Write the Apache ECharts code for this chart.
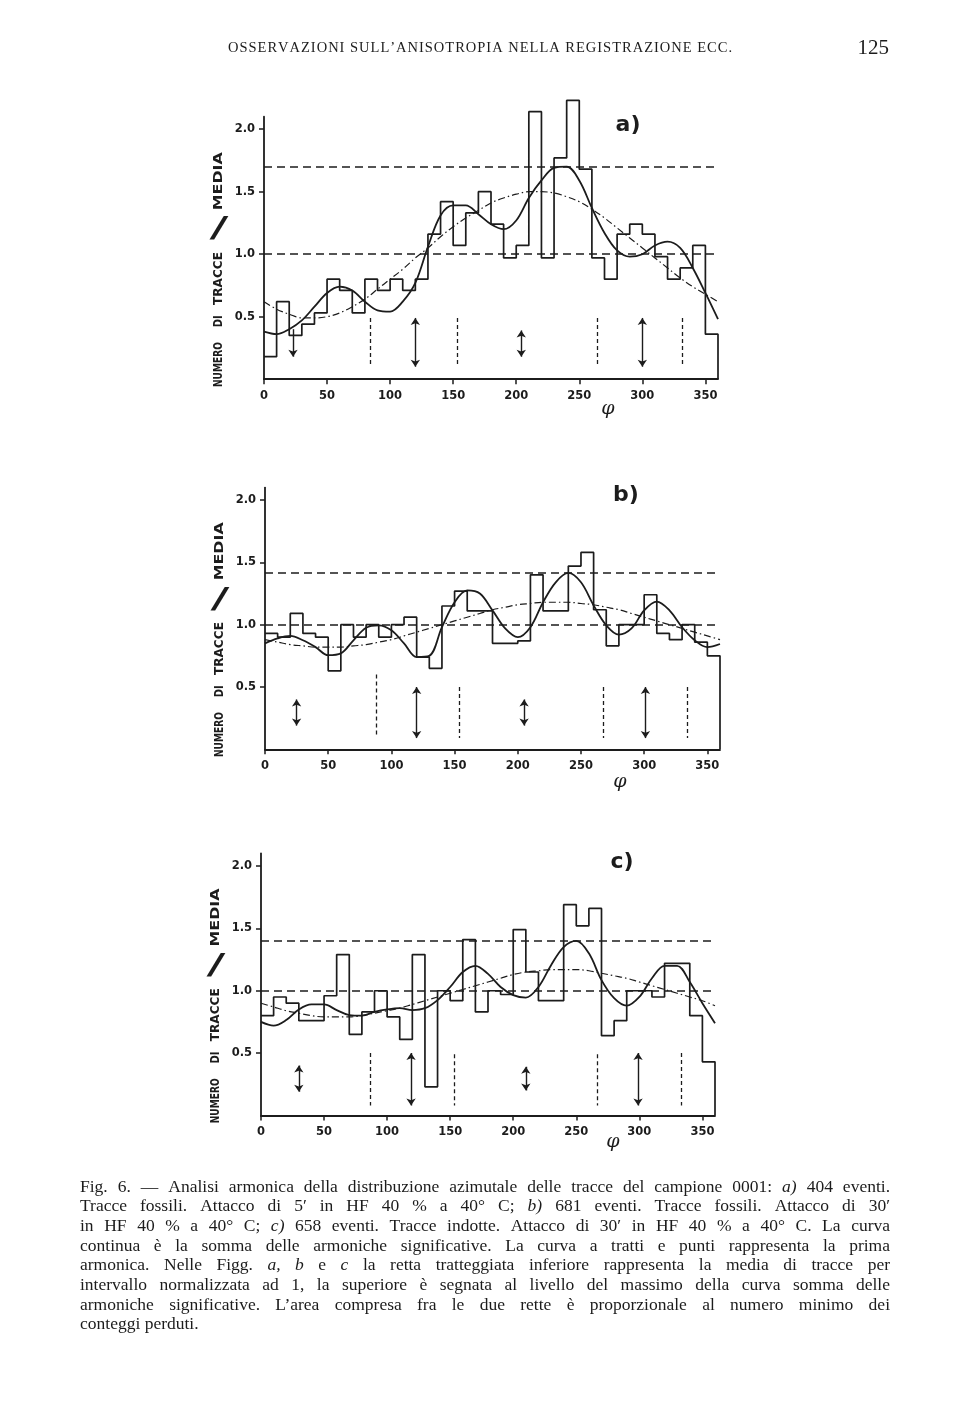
<!DOCTYPE html>
<html>
<head>
<meta charset="utf-8">
<script src="https://cdn.jsdelivr.net/npm/echarts@6/dist/echarts.min.js"></script>
<style>
html,body{margin:0;padding:0;background:#ffffff;}
#c{width:960px;height:1427px;}
</style>
</head>
<body>
<div id="c"></div>
<script>
// ---------------- DATA ----------------
const binStarts = [0,10,20,30,40,50,60,70,80,90,100,110,120,130,140,150,160,170,180,190,200,210,220,230,240,250,260,270,280,290,300,310,320,330,340,350];
const binEnd = 360;
const curveAngles = [0,10,20,30,40,50,60,70,80,90,100,110,120,130,140,150,160,170,180,190,200,210,220,230,240,250,260,270,280,290,300,310,320,330,340,350,360];
const xTickValues = [0,50,100,150,200,250,300,350];
const yTickValues = [0.5,1.0,1.5,2.0];

// a) histogram (tracks / mean per 10 deg bin)
const histA = [0.18,0.62,0.35,0.44,0.53,0.80,0.71,0.53,0.80,0.71,0.80,0.71,0.80,1.16,1.42,1.07,1.33,1.50,1.24,0.97,1.07,2.14,0.97,1.77,2.23,1.68,0.97,0.80,1.16,1.24,1.16,0.98,0.80,0.89,1.07,0.36];
const sumA   = [0.38,0.36,0.40,0.47,0.58,0.69,0.74,0.71,0.62,0.55,0.54,0.62,0.77,1.06,1.31,1.39,1.39,1.32,1.24,1.20,1.27,1.45,1.59,1.69,1.70,1.59,1.37,1.17,1.03,0.98,1.00,1.07,1.10,1.05,0.89,0.69,0.48];
const firstA = [0.62,0.56,0.52,0.49,0.49,0.50,0.53,0.58,0.64,0.72,0.80,0.88,0.97,1.05,1.14,1.22,1.29,1.35,1.41,1.45,1.48,1.50,1.50,1.49,1.46,1.42,1.36,1.29,1.21,1.13,1.05,0.97,0.89,0.81,0.74,0.68,0.62];

// b)
const histB = [0.93,0.90,1.09,0.93,0.90,0.63,1.00,0.90,1.00,0.90,1.00,1.06,0.74,0.65,1.15,1.27,1.11,1.11,0.85,0.85,0.87,1.40,1.11,1.11,1.47,1.58,1.12,0.83,1.00,1.00,1.24,0.93,0.88,1.00,0.86,0.75];
const sumB   = [0.85,0.89,0.91,0.875,0.82,0.755,0.77,0.875,0.975,0.995,0.955,0.85,0.74,0.75,0.98,1.18,1.275,1.25,1.115,0.97,0.90,0.98,1.18,1.34,1.415,1.34,1.155,0.995,0.92,0.97,1.115,1.185,1.115,0.98,0.875,0.82,0.845];
const firstB = [0.88,0.86,0.84,0.83,0.82,0.82,0.82,0.83,0.84,0.86,0.88,0.91,0.94,0.97,1.00,1.03,1.06,1.09,1.12,1.14,1.16,1.17,1.18,1.18,1.18,1.17,1.16,1.14,1.12,1.09,1.06,1.03,1.00,0.97,0.94,0.91,0.88];

// c)
const histC = [0.80,0.95,0.90,0.76,0.76,0.96,1.29,0.65,0.83,1.00,0.79,0.61,1.29,0.23,1.00,0.92,1.41,0.83,1.00,0.97,1.49,1.15,0.92,0.92,1.69,1.52,1.66,0.64,0.76,1.00,1.00,0.95,1.22,1.22,0.80,0.43];
const sumC   = [0.75,0.72,0.765,0.85,0.89,0.89,0.845,0.805,0.80,0.83,0.85,0.86,0.845,0.86,0.925,1.03,1.15,1.20,1.135,1.03,0.965,0.945,1.03,1.205,1.35,1.40,1.30,1.085,0.94,0.88,0.95,1.10,1.20,1.20,1.07,0.90,0.74];
const firstC = [0.90,0.87,0.84,0.82,0.80,0.79,0.79,0.79,0.80,0.82,0.84,0.86,0.89,0.92,0.95,0.98,1.01,1.04,1.07,1.10,1.13,1.15,1.16,1.17,1.17,1.17,1.16,1.14,1.12,1.10,1.07,1.04,1.01,0.98,0.95,0.92,0.88];

// reference levels: lower = mean (1), upper = max of harmonic sum
const meanLevel = 1.0;
const maxLevels = [1.70, 1.42, 1.40];

// vertical dashed markers [angle, top, bottom]
const dashA = [[84,0.49,0.10],[153,0.49,0.10],[264,0.49,0.10],[332,0.49,0.10]];
const dashB = [[88,0.60,0.10],[154,0.50,0.09],[268,0.50,0.09],[334,0.50,0.09]];
const dashC = [[87,0.50,0.08],[153,0.49,0.08],[267,0.49,0.08],[333,0.50,0.08]];

// arrows [angle, top, bottom]
const arrowsA = [[120,0.49,0.10],[204,0.39,0.18],[300,0.49,0.10]];
const downArrowsA = [[23,0.40,0.18]];
const arrowsB = [[25,0.40,0.19],[120,0.50,0.09],[205,0.40,0.19],[301,0.50,0.09]];
const arrowsC = [[30,0.40,0.19],[119,0.50,0.08],[210,0.39,0.20],[299,0.50,0.08]];

const panelLabels = ['a)','b)','c)'];
const headerText = 'OSSERVAZIONI SULL’ANISOTROPIA NELLA REGISTRAZIONE ECC.';
const pageNumber = '125';
const yTitleWords = ['NUMERO','DI','TRACCE','MEDIA'];
const xTitle = 'φ';
const captionLines = [
 'Fig. 6. — Analisi armonica della distribuzione azimutale delle tracce del campione 0001: _a) 404 eventi.',
 'Tracce fossili. Attacco di 5′ in HF 40 % a 40° C; _b) 681 eventi. Tracce fossili. Attacco di 30′',
 'in HF 40 % a 40° C; _c) 658 eventi. Tracce indotte. Attacco di 30′ in HF 40 % a 40° C. La curva',
 'continua è la somma delle armoniche significative. La curva a tratti e punti rappresenta la prima',
 'armonica. Nelle Figg. _a, _b e _c la retta tratteggiata inferiore rappresenta la media di tracce per',
 'intervallo normalizzata ad 1, la superiore è segnata al livello del massimo della curva somma delle',
 'armoniche significative. L’area compresa fra le due rette è proporzionale al numero minimo dei',
 'conteggi perduti.'
];

// ---------------- LAYOUT ----------------
const INK = '#1c1c1c';
const panels = [
  {hist:histA, sum:sumA, first:firstA, maxL:maxLevels[0], dash:dashA, arrows:arrowsA, down:downArrowsA,
   grid:{left:264, top:116.7, width:454, height:262.5}, labelPos:[628,125], phiPos:[608,409], titleX:219, zeroY:379.2},
  {hist:histB, sum:sumB, first:firstB, maxL:maxLevels[1], dash:dashB, arrows:arrowsB, down:[],
   grid:{left:265, top:487.6, width:455, height:261.7}, labelPos:[626,495], phiPos:[620,782], titleX:220, zeroY:749.3},
  {hist:histC, sum:sumC, first:firstC, maxL:maxLevels[2], dash:dashC, arrows:arrowsC, down:[],
   grid:{left:261, top:853.5, width:454, height:262}, labelPos:[622,862], phiPos:[613,1142], titleX:216, zeroY:1115.5}
];

const grids = [], xAxes = [], yAxes = [], series = [], graphics = [];
const labelFont = {fontFamily:'DejaVu Sans', fontWeight:'bold', fontSize:11.5, color:INK};

panels.forEach((p, i) => {
  grids.push(Object.assign({containLabel:false}, p.grid));
  xAxes.push({
    type:'value', gridIndex:i, min:0, max:binEnd, interval:50,
    axisLine:{show:true, onZero:false, lineStyle:{color:INK, width:1.8}},
    axisTick:{show:true, length:5, customValues:xTickValues, lineStyle:{color:INK, width:1.5}},
    axisLabel:Object.assign({show:true, margin:11, customValues:xTickValues}, labelFont),
    splitLine:{show:false}
  });
  yAxes.push({
    type:'value', gridIndex:i, min:0, max:2.1, interval:0.5,
    axisLine:{show:true, onZero:false, lineStyle:{color:INK, width:1.8}},
    axisTick:{show:true, length:5, customValues:yTickValues, lineStyle:{color:INK, width:1.5}},
    axisLabel:Object.assign({show:true, margin:9, customValues:yTickValues, formatter:v=>v.toFixed(1)}, labelFont),
    splitLine:{show:false}
  });

  // histogram outline as a step line
  const histPts = binStarts.map((b,k)=>[b, p.hist[k]]);
  histPts.push([binEnd, p.hist[p.hist.length-1]]);
  histPts.push([binEnd, 0]);
  series.push({
    type:'line', xAxisIndex:i, yAxisIndex:i, step:'end', data:histPts, symbol:'none', clip:false,
    lineStyle:{color:INK, width:1.7}, z:3, silent:true,
    markLine:{silent:true, symbol:'none', label:{show:false}, animation:false,
      lineStyle:{color:INK, width:1.6, type:[8,5]},
      data:[{yAxis:meanLevel},{yAxis:p.maxL}]}
  });
  // sum of significant harmonics
  series.push({
    type:'line', xAxisIndex:i, yAxisIndex:i, smooth:0.35, symbol:'none', silent:true,
    data:curveAngles.map((a,k)=>[a, p.sum[k]]),
    lineStyle:{color:INK, width:1.8}, z:4
  });
  // first harmonic (dash-dot)
  series.push({
    type:'line', xAxisIndex:i, yAxisIndex:i, smooth:0.35, symbol:'none', silent:true,
    data:curveAngles.map((a,k)=>[a, p.first[k]]),
    lineStyle:{color:INK, width:1.2, type:[7,3,1.5,3]}, z:4
  });
  // vertical dashed markers
  series.push({
    type:'lines', coordinateSystem:'cartesian2d', xAxisIndex:i, yAxisIndex:i, silent:true,
    symbol:'none',
    lineStyle:{color:INK, width:1.3, type:[4,3], opacity:1},
    data:p.dash.map(d=>({coords:[[d[0],d[1]],[d[0],d[2]]]}))
  });
  // double arrows
  series.push({
    type:'lines', coordinateSystem:'cartesian2d', xAxisIndex:i, yAxisIndex:i, silent:true,
    symbol:['arrow','arrow'], symbolSize:7,
    lineStyle:{color:INK, width:1.4, opacity:1},
    data:p.arrows.map(d=>({coords:[[d[0],d[1]],[d[0],d[2]]]}))
  });
  if (p.down.length) {
    series.push({
      type:'lines', coordinateSystem:'cartesian2d', xAxisIndex:i, yAxisIndex:i, silent:true,
      symbol:['none','arrow'], symbolSize:7,
      lineStyle:{color:INK, width:1.4, opacity:1},
      data:p.down.map(d=>({coords:[[d[0],d[1]],[d[0],d[2]]]}))
    });
  }

  // panel label
  graphics.push({type:'text', x:p.labelPos[0], y:p.labelPos[1], silent:true,
    style:{text:panelLabels[i], fontFamily:'DejaVu Sans', fontWeight:'bold', fontSize:22, fill:INK,
      align:'center', verticalAlign:'middle', textAlign:'center', textVerticalAlign:'middle'}});
  // phi
  graphics.push({type:'text', x:p.phiPos[0], y:p.phiPos[1], silent:true,
    style:{text:xTitle, fontFamily:'DejaVu Serif', fontStyle:'italic', fontSize:19, fill:INK,
      align:'center', verticalAlign:'middle', textAlign:'center', textVerticalAlign:'middle'}});
});

// y title words (rotated, bottom to top)
const ctx = document.createElement('canvas').getContext('2d');
function measure(t, font){ ctx.font = font; return ctx.measureText(t).width; }
const wordOffsets = [-14.7, -58, -100.7, -198];
const wordLengths = [45, 12, 53, 58];
panels.forEach(p => {
  yTitleWords.forEach((w, k) => {
    const nat = measure(w, 'bold 12px "DejaVu Sans"');
    graphics.push({type:'text', x:p.titleX, y:p.zeroY + wordOffsets[k], rotation:Math.PI/2,
      scaleX:wordLengths[k]/nat, silent:true,
      style:{text:w, fontFamily:'DejaVu Sans', fontWeight:'bold', fontSize:12, fill:INK,
        align:'center', verticalAlign:'middle', textAlign:'center', textVerticalAlign:'middle'}});
  });
  graphics.push({type:'text', x:p.titleX, y:p.zeroY - 149, scaleX:2.0, silent:true,
    style:{text:'/', fontFamily:'DejaVu Sans', fontSize:28, fill:INK,
      align:'center', verticalAlign:'middle', textAlign:'center', textVerticalAlign:'middle'}});
});

// header (letter-spaced small capitals)
(function(){
  const hLeft = 228, hRight = 732, hSize = 14.5, hFont = hSize + 'px "Liberation Serif"';
  const chars = Array.from(headerText);
  const cw = chars.map(c => measure(c, hFont));
  const total = cw.reduce((a,b)=>a+b,0);
  const extra = (hRight - hLeft - total) / (chars.length - 1);
  let x = hLeft;
  chars.forEach((c, j) => {
    if (c !== ' ') graphics.push({type:'text', x:x, y:48, silent:true,
      style:{text:c, fontFamily:'Liberation Serif', fontSize:hSize, fill:INK,
        align:'left', verticalAlign:'middle', textAlign:'left', textVerticalAlign:'middle'}});
    x += cw[j] + extra;
  });
})();
graphics.push({type:'text', x:889, y:48, silent:true,
  style:{text:pageNumber, fontFamily:'Liberation Serif', fontSize:21, fill:INK,
    align:'right', verticalAlign:'middle', textAlign:'right', textVerticalAlign:'middle'}});

// caption, justified
const capLeft = 80, capRight = 890, capTop = 1187, capLead = 19.7, capSize = 17.5;
captionLines.forEach((line, li) => {
  const toks = line.split(' ').map(t => t.startsWith('_') ? {t:t.slice(1), it:true} : {t:t, it:false});
  const widths = toks.map(k => measure(k.t, (k.it?'italic ':'') + capSize + 'px "Liberation Serif"'));
  const total = widths.reduce((a,b)=>a+b, 0);
  const justify = li < captionLines.length - 1;
  const gap = justify ? (capRight - capLeft - total) / (toks.length - 1) : measure(' ', capSize + 'px "Liberation Serif"');
  let x = capLeft;
  toks.forEach((k, j) => {
    graphics.push({type:'text', x:x, y:capTop + li*capLead, silent:true,
      style:{text:k.t, fontFamily:'Liberation Serif', fontStyle:k.it?'italic':'normal', fontSize:capSize, fill:INK,
        align:'left', verticalAlign:'middle', textAlign:'left', textVerticalAlign:'middle'}});
    x += widths[j] + gap;
  });
});

const chart = echarts.init(document.getElementById('c'), null, {renderer:'canvas', width:960, height:1427});
chart.setOption({
  backgroundColor:'#ffffff',
  animation:false,
  grid:grids, xAxis:xAxes, yAxis:yAxes, series:series,
  graphic:{elements:graphics}
});
</script>
</body>
</html>
